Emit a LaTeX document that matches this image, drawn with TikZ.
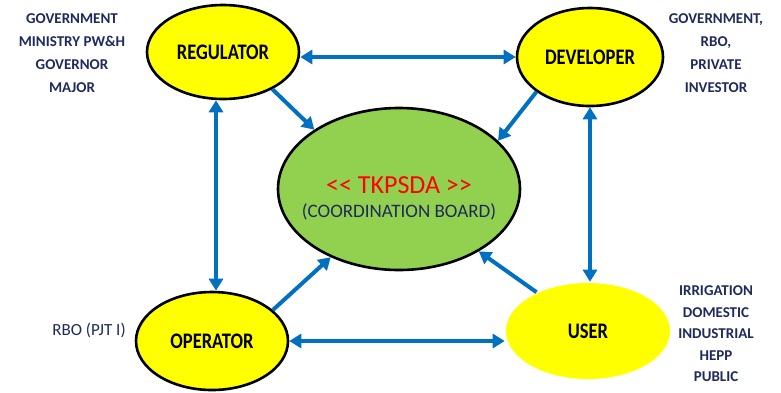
\documentclass[tikz,border=0pt]{standalone}
\usepackage{fontspec}
\setmainfont{Carlito}
\usetikzlibrary{arrows.meta,shapes.geometric}
\definecolor{ablue}{HTML}{0070C0}
\definecolor{navy}{HTML}{1F2A5C}
\definecolor{lgreen}{HTML}{92D050}
\definecolor{yel}{HTML}{FFFF00}
\begin{document}
\begin{tikzpicture}[x=1pt,y=-1pt,
  role/.style={ellipse,fill=yel,draw=black,line width=2.6pt,inner sep=0pt,font=\bfseries\fontsize{18.5}{18.5}\selectfont},
  side/.style={align=center,text=navy,font=\bfseries\fontsize{15}{23}\selectfont},
  link/.style={draw=ablue,line width=4pt,{Triangle[length=12pt,width=14pt]}-{Triangle[length=12pt,width=14pt]}},
  feed/.style={draw=ablue,line width=4pt,-{Triangle[length=12pt,width=14pt]}}]
\useasboundingbox (0,0) rectangle (781,392);
\node[role,minimum width=152pt,minimum height=94pt] (reg) at (223,52) {\scalebox{1}[1.2]{REGULATOR}};
\node[role,minimum width=146pt,minimum height=98pt] (dev) at (590,57) {\scalebox{1}[1.2]{DEVELOPER}};
\node[role,minimum width=152pt,minimum height=98pt] (ope) at (212,341) {\scalebox{1}[1.2]{OPERATOR}};
\node[role,draw=none,minimum width=164pt,minimum height=96pt] (use) at (588,331) {\scalebox{1}[1.2]{USER}};
\node[ellipse,fill=lgreen,draw=black,line width=2.6pt,minimum width=242pt,minimum height=162pt] (tk) at (399,189) {};
\node[text=red,font=\fontsize{26}{26}\selectfont] (tkt) at (399,185) {<{}< TKPSDA >{}>};
\node[text=navy,font=\fontsize{19}{19}\selectfont] (cb) at (399,212) {(COORDINATION BOARD)};
\node[side] (l1) at (72,53) {GOVERNMENT\\MINISTRY PW\&H\\GOVERNOR\\MAJOR};
\node[side] (l2) at (716,53) {GOVERNMENT,\\RBO,\\PRIVATE\\INVESTOR};
\node[text=navy,font=\fontsize{17}{17}\selectfont] (l3) at (89,330) {RBO (PJT I)};
\node[side,font=\bfseries\fontsize{15}{21.5}\selectfont] (l4) at (716,334) {IRRIGATION\\DOMESTIC\\INDUSTRIAL\\HEPP\\PUBLIC};
\draw[link] (reg.east |- dev.west) -- (dev.west);
\draw[link] ([xshift=-7pt]reg.south) -- ([xshift=4pt]ope.north);
\draw[link] (dev.south) -- ([xshift=2pt]use.north);
\draw[link] (ope.east) -- (ope.east -| use.west);
\draw[feed] (reg.-37) -- (tk.145);
\draw[feed] (dev.-147) -- (tk.26);
\draw[feed] (ope.27) -- (tk.-135);
\draw[feed] (use.143) -- (tk.-38);
\end{tikzpicture}
\end{document}
